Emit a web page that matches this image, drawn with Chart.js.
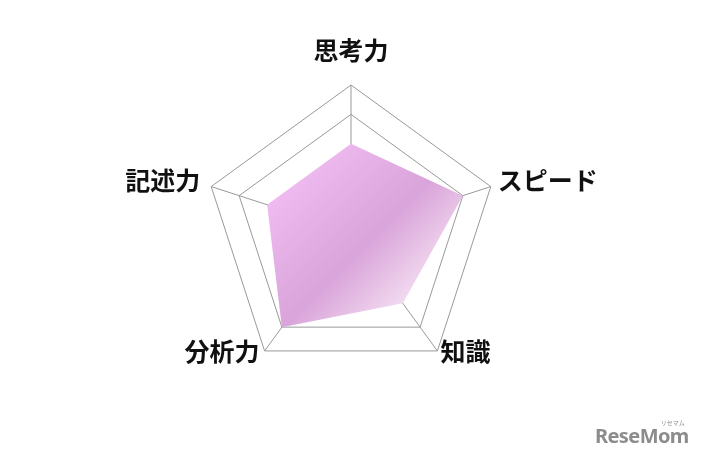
<!DOCTYPE html>
<html>
<head>
<meta charset="utf-8">
<script src="https://cdn.jsdelivr.net/npm/chart.js@4"></script>
<style>
  html, body { margin: 0; padding: 0; background: #fff; }
  #wrap { position: relative; width: 707px; height: 461px; }
  #logo { position: absolute; left: 595px; top: 426px; line-height: 20px; font-family: 'Noto Sans', sans-serif; font-weight: 700; font-size: 20px; color: #8c8c8c; letter-spacing: -0.6px; }
  #logo small { position: absolute; right: 4px; top: -6px; line-height: 6px; font-size: 6px; font-weight: 400; font-family: 'Noto Sans CJK JP', sans-serif; letter-spacing: 0; }
</style>
</head>
<body>
<div id="wrap">
  <canvas id="radar" width="707" height="461"></canvas>
  <div id="logo">ReseMom<small>リセマム</small></div>
</div>
<script>
// axes, clockwise from the top
const labels = ['思考力', 'スピード', '知識', '分析力', '記述力']
const scores = [3, 4, 3, 4, 3]
const scaleMax = 5
const ringTicks = [4, 5]   // only these rings are drawn

const GRID = '#999'

// label nudges relative to each outer vertex: [dx, dy, align]
const labelPlace = [
  [0, -35, 'center'],
  [7, -6, 'left'],
  [3, 1, 'left'],
  [-5, 1, 'right'],
  [-11, -6, 'right'],
]

function fillGradient(context) {
  const { chart } = context
  const area = chart.chartArea
  if (!area) return 'rgba(220,165,220,0.8)'
  const g = chart.ctx.createLinearGradient(230, 230, 355, 355)
  g.addColorStop(0, '#f1bcf2')
  g.addColorStop(0.6, '#d9a4d9')
  g.addColorStop(1, '#f3dcf1')
  return g
}

// draws the axis names next to the outer vertices
const axisLabels = {
  id: 'axisLabels',
  afterDraw(chart) {
    const scale = chart.scales.r
    const ctx = chart.ctx
    ctx.save()
    ctx.font = 'bold 25px "Noto Sans CJK JP", sans-serif'
    ctx.fillStyle = '#111'
    ctx.textBaseline = 'middle'
    labels.forEach((name, i) => {
      const p = scale.getPointPosition(i, scale.drawingArea)
      const [dx, dy, align] = labelPlace[i]
      ctx.textAlign = align
      ctx.fillText(name, p.x + dx, p.y + dy)
    })
    ctx.restore()
  },
}

new Chart(document.getElementById('radar'), {
  type: 'radar',
  data: {
    labels,
    datasets: [{
      data: scores,
      backgroundColor: fillGradient,
      borderWidth: 0,
      borderColor: 'transparent',
      pointRadius: 0,
      fill: true,
    }],
  },
  options: {
    responsive: false,
    animation: false,
    layout: { padding: { top: 85, bottom: 82, left: 0, right: 5 } },
    plugins: { legend: { display: false }, tooltip: { enabled: false } },
    scales: {
      r: {
        min: 0,
        max: scaleMax,
        afterBuildTicks: s => { s.ticks = [0, ...ringTicks].map(v => ({ value: v })) },
        ticks: { display: false },
        pointLabels: { display: false },
        grid: { color: GRID, lineWidth: 1 },
        angleLines: { color: GRID, lineWidth: 1 },
      },
    },
  },
  plugins: [axisLabels],
})
</script>
</body>
</html>
